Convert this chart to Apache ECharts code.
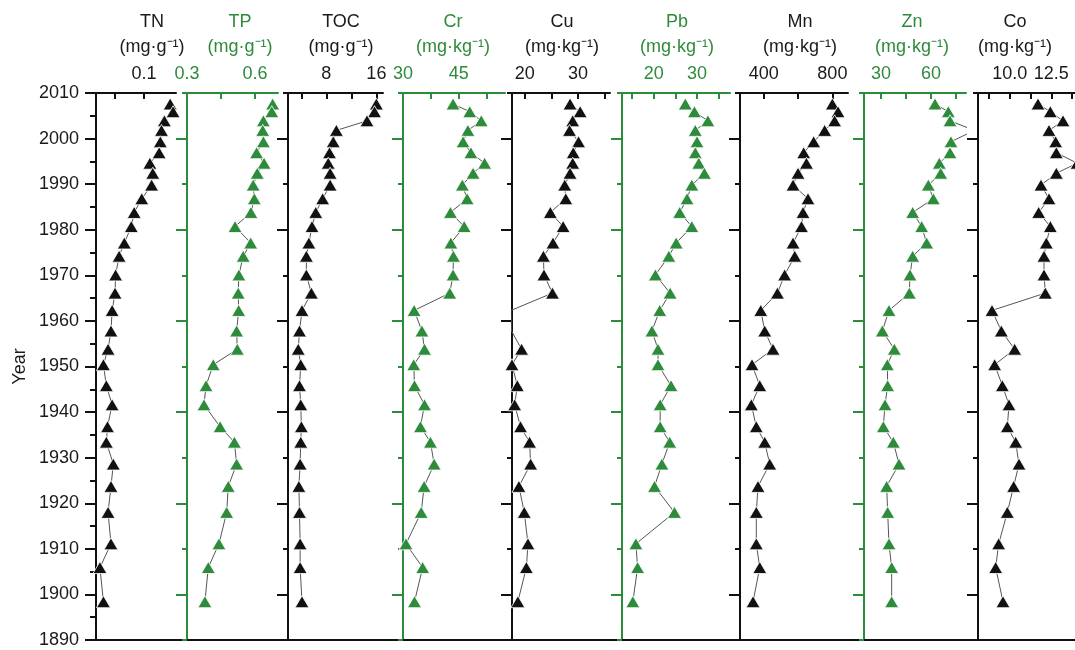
<!DOCTYPE html>
<html><head><meta charset="utf-8">
<script src="https://cdn.jsdelivr.net/npm/echarts@6/dist/echarts.min.js"></script>
<style>html,body{margin:0;padding:0;background:#fff}#c{width:1075px;height:650px}</style>
</head><body><div id="c"></div>
<script>
// ---- data ----
const years = [2007.6, 2005.9, 2003.9, 2001.8, 1999.3, 1996.9, 1994.6, 1992.4, 1989.8, 1986.8,
  1983.8, 1980.7, 1977.1, 1974.2, 1970.1, 1966.1, 1962.3, 1957.8, 1953.8, 1950.4,
  1945.8, 1941.6, 1936.8, 1933.4, 1928.6, 1923.7, 1918.0, 1911.1, 1905.9, 1898.4];

const TN  = [0.145, 0.150, 0.135, 0.130, 0.128, 0.126, 0.110, 0.115, 0.113, 0.096,
  0.083, 0.078, 0.066, 0.057, 0.051, 0.050, 0.045, 0.043, 0.038, 0.030,
  0.035, 0.045, 0.037, 0.035, 0.047, 0.043, 0.038, 0.043, 0.024, 0.030];
const TP  = [0.678, 0.674, 0.637, 0.634, 0.637, 0.607, 0.640, 0.610, 0.592, 0.597,
  0.582, 0.512, 0.581, 0.548, 0.529, 0.526, 0.528, 0.519, 0.522, 0.416,
  0.384, 0.375, 0.446, 0.509, 0.519, 0.482, 0.475, 0.441, 0.394, 0.379];
const TOC = [16.0, 15.7, 14.5, 9.6, 9.1, 8.5, 8.3, 8.6, 8.6, 7.4,
  6.3, 5.7, 5.2, 4.8, 4.8, 5.6, 4.1, 3.7, 3.5, 3.9,
  3.7, 3.9, 4.0, 3.9, 3.8, 3.6, 3.7, 3.8, 3.8, 4.1];
const Cr  = [43.5, 48.0, 51.1, 47.5, 46.2, 48.3, 52.0, 48.9, 46.0, 47.3,
  42.8, 46.5, 42.9, 43.6, 43.5, 42.6, 33.0, 35.1, 35.8, 32.9,
  33.1, 35.8, 34.7, 37.4, 38.4, 35.7, 34.9, 30.8, 35.3, 33.1];
const Cu  = [28.5, 30.4, 29.0, 28.4, 30.1, 29.1, 29.0, 28.5, 27.5, 27.7,
  24.8, 27.2, 25.3, 23.5, 23.6, 25.2, 17.4, 17.5, 19.4, 17.6,
  18.6, 18.1, 19.2, 20.9, 21.1, 18.9, 19.9, 20.6, 20.3, 18.7];
const Pb  = [27.3, 29.4, 32.5, 29.6, 30.0, 29.6, 30.4, 31.7, 28.8, 27.7,
  26.0, 28.8, 25.2, 23.5, 20.4, 23.8, 21.4, 19.6, 21.0, 21.0,
  24.0, 21.5, 21.5, 23.7, 21.9, 20.2, 24.8, 15.9, 16.3, 15.2];
const Mn  = [800, 833, 813, 755, 691, 633, 649, 600, 571, 658,
  629, 620, 571, 581, 522, 480, 383, 406, 454, 332,
  377, 328, 357, 406, 435, 367, 357, 357, 377, 338];
const Zn  = [62.4, 70.4, 71.4, 86.0, 72.0, 71.4, 65.0, 65.8, 58.4, 61.4,
  49.0, 54.4, 57.4, 49.0, 47.4, 47.0, 34.8, 30.8, 38.0, 33.8,
  34.0, 32.4, 31.4, 37.4, 40.8, 33.4, 34.0, 34.8, 36.4, 36.4];
const Co  = [11.70, 12.44, 13.20, 12.36, 12.76, 12.80, 14.05, 12.80, 11.88, 12.36,
  11.74, 12.44, 12.20, 12.06, 12.06, 12.14, 8.94, 9.50, 10.30, 9.10,
  9.56, 9.96, 9.86, 10.36, 10.56, 10.24, 9.86, 9.34, 9.16, 9.60];

const names = ['TN', 'TP', 'TOC', 'Cr', 'Cu', 'Pb', 'Mn', 'Zn', 'Co'];
const units = ['(mg·g⁻¹)', '(mg·g⁻¹)', '(mg·g⁻¹)', '(mg·kg⁻¹)', '(mg·kg⁻¹)',
  '(mg·kg⁻¹)', '(mg·kg⁻¹)', '(mg·kg⁻¹)', '(mg·kg⁻¹)'];

const ticksTN = [0.05, 0.10], labelsTN = [0.1];
const ticksTP = [0.45, 0.6], labelsTP = [0.3, 0.6];
const ticksTOC = [4, 8, 12, 16], labelsTOC = [8, 16];
const ticksCr = [37.5, 45, 52.5], labelsCr = [30, 45];
const ticksCu = [20, 25, 30, 35], labelsCu = [20, 30];
const ticksPb = [15, 20, 25, 30, 35], labelsPb = [20, 30];
const ticksMn = [400, 600, 800], labelsMn = [400, 800];
const ticksZn = [30, 45, 60, 75], labelsZn = [30, 60];
const ticksCo = [8.75, 10, 11.25, 12.5, 13.75, 15], labelsCo = [10.0, 12.5];

// ---- layout / style ----
const BLACK = '#111111', GREEN = '#2e8b3c', TXT = '#1a1a1a';
const FONT = '"Liberation Sans", Arial, sans-serif';
const panels = [
  {vals: TN,  ticks: ticksTN,  labels: labelsTN,  dec: 1, green: false, left: 96,  width: 80,  min: 0.0172, max: 0.155, tx: 152},
  {vals: TP,  ticks: ticksTP,  labels: labelsTP,  dec: 1, green: true,  left: 187, width: 91,  min: 0.3,  max: 0.7015, tx: 240},
  {vals: TOC, ticks: ticksTOC, labels: labelsTOC, dec: 0, green: false, left: 288, width: 95,  min: 1.86, max: 17.06, tx: 341},
  {vals: Cr,  ticks: ticksCr,  labels: labelsCr,  dec: 0, green: true,  left: 403, width: 102, min: 30,   max: 57.5,  tx: 453},
  {vals: Cu,  ticks: ticksCu,  labels: labelsCu,  dec: 0, green: false, left: 512, width: 98,  min: 17.6, max: 36.0,  tx: 562},
  {vals: Pb,  ticks: ticksPb,  labels: labelsPb,  dec: 0, green: true,  left: 622, width: 108, min: 12.7, max: 37.6,  tx: 677},
  {vals: Mn,  ticks: ticksMn,  labels: labelsMn,  dec: 0, green: false, left: 740, width: 108, min: 262,  max: 891,   tx: 800},
  {vals: Zn,  ticks: ticksZn,  labels: labelsZn,  dec: 0, green: true,  left: 864, width: 102, min: 19.8, max: 81.0,  tx: 912},
  {vals: Co,  ticks: ticksCo,  labels: labelsCo,  dec: 1, green: false, left: 978, width: 120, min: 8.1,  max: 15.3,  tx: 1015}
];
const TOP = 93, H = 547;

const grid = [], xAxis = [], yAxis = [], series = [], graphic = [];
panels.forEach((p, i) => {
  const col = p.green ? GREEN : BLACK;
  const tcol = p.green ? GREEN : TXT;
  grid.push({left: p.left, top: TOP, width: p.width, height: H, outerBoundsMode: 'none', containLabel: false});
  xAxis.push({
    gridIndex: i, type: 'value', position: 'top', min: p.min, max: p.max,
    axisLine: {show: true, onZero: false, lineStyle: {color: col, width: 2}},
    axisTick: {show: true, inside: true, length: 6, customValues: p.ticks, lineStyle: {color: col, width: 2}},
    axisLabel: {show: true, customValues: p.labels, margin: 10, color: tcol, fontSize: 18, fontFamily: FONT,
      showMinLabel: true, showMaxLabel: true, hideOverlap: false,
      formatter: v => Number(v).toFixed(p.dec)},
    splitLine: {show: false}
  });
  const first = i === 0;
  yAxis.push({
    gridIndex: i, type: 'value', min: 1890, max: 2010, interval: first ? 10 : 20,
    axisLine: {show: true, onZero: false, lineStyle: {color: col, width: 2}},
    axisTick: {show: true, length: first ? 11 : 5, lineStyle: {color: col, width: 2}},
    minorTick: {show: true, splitNumber: 2, length: first ? 6 : 11, lineStyle: {color: col, width: 2}},
    axisLabel: {show: first, margin: 17, color: TXT, fontSize: 18, fontFamily: FONT, formatter: v => String(v)},
    splitLine: {show: false}, minorSplitLine: {show: false},
    name: first ? 'Year' : '', nameLocation: 'middle', nameGap: 67, nameRotate: 90,
    nameTextStyle: {color: TXT, fontSize: 18, fontFamily: FONT}
  });
  series.push({
    type: 'line', xAxisIndex: i, yAxisIndex: i,
    data: years.map((y, k) => [p.vals[k], y]),
    symbol: 'triangle', symbolSize: [14, 12],
    itemStyle: {color: col, borderColor: '#ffffff', borderWidth: 0.8},
    lineStyle: {color: '#555555', width: 1},
    z: 3
  });
  graphic.push({type: 'text', x: p.tx, y: 22, style: {text: names[i], align: 'center', verticalAlign: 'middle',
    fill: tcol, fontSize: 18, fontFamily: FONT}});
  graphic.push({type: 'text', x: p.tx, y: 47, style: {text: units[i], align: 'center', verticalAlign: 'middle',
    fill: tcol, fontSize: 18, fontFamily: FONT}});
});
// continuous baseline along the bottom
grid.push({left: 96, top: TOP, width: 1000, height: H, outerBoundsMode: 'none'});
xAxis.push({gridIndex: 9, type: 'value', position: 'bottom', min: 0, max: 1,
  axisLine: {show: true, onZero: false, lineStyle: {color: BLACK, width: 2}},
  axisTick: {show: false}, axisLabel: {show: false}, splitLine: {show: false}});
yAxis.push({gridIndex: 9, type: 'value', min: 0, max: 1, show: false});

const chart = echarts.init(document.getElementById('c'), null, {renderer: 'canvas'});
chart.setOption({animation: false, backgroundColor: '#ffffff', grid, xAxis, yAxis, series, graphic});
</script>
</body></html>
